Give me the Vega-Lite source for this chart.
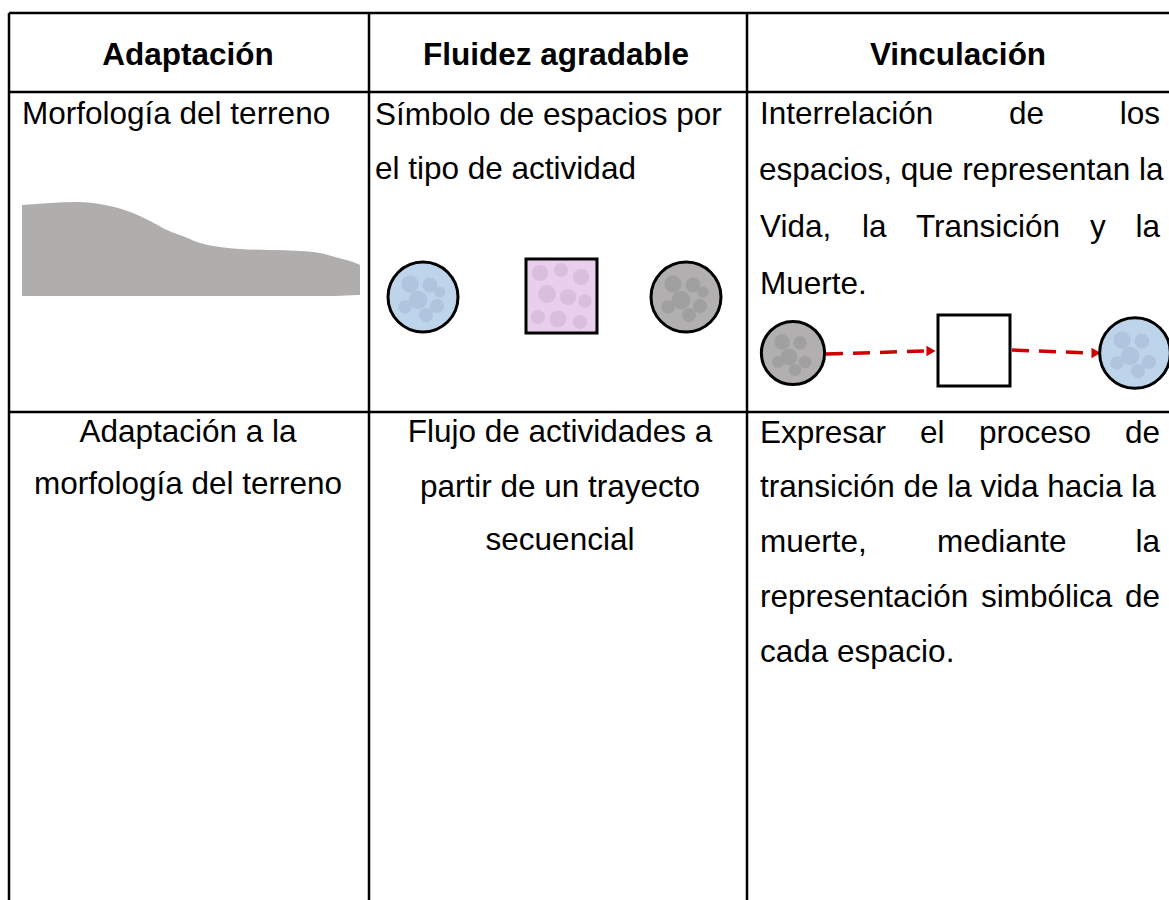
{
  "$schema": "https://vega.github.io/schema/vega-lite/v6.json",
  "width": 1169,
  "height": 900,
  "padding": 0,
  "autosize": {"type": "none"},
  "background": "white",
  "config": {"view": {"stroke": null}},
  "datasets": {
    "terrain": [
      {"x": 22, "y": 205, "b": 296}, {"x": 50, "y": 203, "b": 296}, {"x": 77, "y": 202, "b": 296},
      {"x": 105, "y": 205, "b": 296}, {"x": 133, "y": 213, "b": 296}, {"x": 150, "y": 221, "b": 296},
      {"x": 167, "y": 230, "b": 296}, {"x": 185, "y": 237, "b": 296}, {"x": 200, "y": 243, "b": 296},
      {"x": 220, "y": 247, "b": 296}, {"x": 240, "y": 249, "b": 296}, {"x": 270, "y": 250, "b": 296},
      {"x": 300, "y": 251, "b": 296}, {"x": 320, "y": 253, "b": 296}, {"x": 335, "y": 257, "b": 296},
      {"x": 358, "y": 264, "b": 295}, {"x": 360, "y": 265, "b": 295}
    ],
    "grid": [
      {"x": 9, "y": 13, "x2": 1169, "y2": 13},
      {"x": 9, "y": 92, "x2": 1169, "y2": 92},
      {"x": 9, "y": 412, "x2": 1169, "y2": 412},
      {"x": 9, "y": 13, "x2": 9, "y2": 900},
      {"x": 369, "y": 13, "x2": 369, "y2": 900},
      {"x": 747, "y": 13, "x2": 747, "y2": 900}
    ],
    "circles": [
      {"x": 423, "y": 297, "s": 4900, "c": "#bed4eb"},
      {"x": 686, "y": 297, "s": 4900, "c": "#b1afaf"},
      {"x": 793, "y": 353, "s": 4000, "c": "#b1afaf"},
      {"x": 1135, "y": 353, "s": 5000, "c": "#bed4eb"}
    ],
    "blotches": [
      {"x": 410, "y": 284, "s": 300, "c": "#aec3db"}, {"x": 430, "y": 285, "s": 220, "c": "#aec3db"},
      {"x": 418, "y": 300, "s": 350, "c": "#aec3db"}, {"x": 437, "y": 306, "s": 200, "c": "#aec3db"},
      {"x": 405, "y": 307, "s": 180, "c": "#aec3db"}, {"x": 426, "y": 315, "s": 200, "c": "#aec3db"},
      {"x": 440, "y": 292, "s": 120, "c": "#aec3db"},
      {"x": 673, "y": 284, "s": 300, "c": "#a09e9e"}, {"x": 693, "y": 285, "s": 220, "c": "#a09e9e"},
      {"x": 681, "y": 300, "s": 350, "c": "#a09e9e"}, {"x": 700, "y": 306, "s": 200, "c": "#a09e9e"},
      {"x": 668, "y": 307, "s": 180, "c": "#a09e9e"}, {"x": 689, "y": 315, "s": 200, "c": "#a09e9e"},
      {"x": 703, "y": 292, "s": 120, "c": "#a09e9e"},
      {"x": 782, "y": 342, "s": 240, "c": "#a09e9e"}, {"x": 800, "y": 343, "s": 180, "c": "#a09e9e"},
      {"x": 789, "y": 357, "s": 280, "c": "#a09e9e"}, {"x": 805, "y": 362, "s": 160, "c": "#a09e9e"},
      {"x": 778, "y": 362, "s": 140, "c": "#a09e9e"}, {"x": 795, "y": 370, "s": 150, "c": "#a09e9e"},
      {"x": 1122, "y": 340, "s": 300, "c": "#aec3db"}, {"x": 1142, "y": 341, "s": 220, "c": "#aec3db"},
      {"x": 1130, "y": 356, "s": 350, "c": "#aec3db"}, {"x": 1149, "y": 362, "s": 200, "c": "#aec3db"},
      {"x": 1117, "y": 363, "s": 180, "c": "#aec3db"}, {"x": 1138, "y": 371, "s": 200, "c": "#aec3db"},
      {"x": 540, "y": 273, "s": 260, "c": "#d8bbdb"}, {"x": 561, "y": 270, "s": 200, "c": "#d8bbdb"},
      {"x": 581, "y": 277, "s": 260, "c": "#d8bbdb"}, {"x": 547, "y": 294, "s": 320, "c": "#d8bbdb"},
      {"x": 568, "y": 297, "s": 260, "c": "#d8bbdb"}, {"x": 585, "y": 301, "s": 180, "c": "#d8bbdb"},
      {"x": 538, "y": 317, "s": 200, "c": "#d8bbdb"}, {"x": 558, "y": 319, "s": 280, "c": "#d8bbdb"},
      {"x": 580, "y": 322, "s": 200, "c": "#d8bbdb"}
    ],
    "squares": [
      {"x": 526, "x2": 597, "y": 259, "y2": 333, "c": "#eacfed"},
      {"x": 938, "x2": 1010, "y": 315, "y2": 386, "c": "#ffffff"}
    ],
    "arrows": [
      {"x": 826, "y": 354, "x2": 926, "y2": 351},
      {"x": 1012, "y": 350, "x2": 1091, "y2": 353}
    ],
    "heads": [
      {"x": 931, "y": 351},
      {"x": 1096, "y": 353}
    ],
    "texts": [
      {"t": "Adaptación", "x": 188, "y": 65, "a": "cb"},
      {"t": "Fluidez agradable", "x": 556, "y": 65, "a": "cb"},
      {"t": "Vinculación", "x": 958, "y": 65, "a": "cb"},
      {"t": "Morfología del terreno", "x": 22, "y": 124, "a": "l"},
      {"t": "Símbolo de espacios por", "x": 375, "y": 125, "a": "l"},
      {"t": "el tipo de actividad", "x": 375, "y": 179, "a": "l"},
      {"t": "Interrelación", "x": 760, "y": 124, "a": "l"},
      {"t": "de", "x": 1009, "y": 124, "a": "l"},
      {"t": "los", "x": 1160, "y": 124, "a": "r"},
      {"t": "espacios, que representan la", "x": 759, "y": 180, "a": "l"},
      {"t": "Vida,", "x": 760, "y": 237, "a": "l"},
      {"t": "la", "x": 862, "y": 237, "a": "l"},
      {"t": "Transición", "x": 916, "y": 237, "a": "l"},
      {"t": "y", "x": 1090, "y": 237, "a": "l"},
      {"t": "la", "x": 1160, "y": 237, "a": "r"},
      {"t": "Muerte.", "x": 760, "y": 294, "a": "l"},
      {"t": "Adaptación a la", "x": 188, "y": 442, "a": "c"},
      {"t": "morfología del terreno", "x": 188, "y": 494, "a": "c"},
      {"t": "Flujo de actividades a", "x": 560, "y": 442, "a": "c"},
      {"t": "partir de un trayecto", "x": 560, "y": 497, "a": "c"},
      {"t": "secuencial", "x": 560, "y": 550, "a": "c"},
      {"t": "Expresar", "x": 760, "y": 443, "a": "l"},
      {"t": "el", "x": 920, "y": 443, "a": "l"},
      {"t": "proceso", "x": 979, "y": 443, "a": "l"},
      {"t": "de", "x": 1160, "y": 443, "a": "r"},
      {"t": "transición de la vida hacia la", "x": 760, "y": 497, "a": "l"},
      {"t": "muerte,", "x": 760, "y": 552, "a": "l"},
      {"t": "mediante", "x": 937, "y": 552, "a": "l"},
      {"t": "la", "x": 1160, "y": 552, "a": "r"},
      {"t": "representación", "x": 760, "y": 607, "a": "l"},
      {"t": "simbólica", "x": 981, "y": 607, "a": "l"},
      {"t": "de", "x": 1160, "y": 607, "a": "r"},
      {"t": "cada espacio.", "x": 760, "y": 662, "a": "l"}
    ]
  },
  "layer": [
    {
      "data": {"name": "terrain"},
      "mark": {"type": "area", "color": "#b0adad", "interpolate": "monotone"},
      "encoding": {
        "x": {"field": "x", "type": "quantitative", "scale": {"domain": [0, 1169], "nice": false, "zero": false}, "axis": null},
        "y": {"field": "y", "type": "quantitative", "scale": {"domain": [0, 900], "reverse": true, "nice": false, "zero": false}, "axis": null},
        "y2": {"field": "b"}
      }
    },
    {
      "data": {"name": "grid"},
      "mark": {"type": "rule", "color": "#000000", "strokeWidth": 2.5},
      "encoding": {
        "x": {"field": "x", "type": "quantitative", "axis": null},
        "y": {"field": "y", "type": "quantitative", "axis": null},
        "x2": {"field": "x2"},
        "y2": {"field": "y2"}
      }
    },
    {
      "data": {"name": "squares"},
      "mark": {"type": "rect", "strokeWidth": 0},
      "encoding": {
        "x": {"field": "x", "type": "quantitative", "axis": null},
        "x2": {"field": "x2"},
        "y": {"field": "y", "type": "quantitative", "axis": null},
        "y2": {"field": "y2"},
        "fill": {"field": "c", "type": "nominal", "scale": null}
      }
    },
    {
      "data": {"name": "arrows"},
      "mark": {"type": "rule", "color": "#d00000", "strokeWidth": 3.5, "strokeDash": [17, 10]},
      "encoding": {
        "x": {"field": "x", "type": "quantitative", "axis": null},
        "y": {"field": "y", "type": "quantitative", "axis": null},
        "x2": {"field": "x2"},
        "y2": {"field": "y2"}
      }
    },
    {
      "data": {"name": "heads"},
      "mark": {"type": "point", "shape": "triangle-right", "filled": true, "color": "#d00000", "size": 110, "opacity": 1},
      "encoding": {
        "x": {"field": "x", "type": "quantitative", "axis": null},
        "y": {"field": "y", "type": "quantitative", "axis": null}
      }
    },
    {
      "data": {"name": "circles"},
      "mark": {"type": "point", "shape": "circle", "filled": true, "strokeWidth": 0, "opacity": 1},
      "encoding": {
        "x": {"field": "x", "type": "quantitative", "axis": null},
        "y": {"field": "y", "type": "quantitative", "axis": null},
        "size": {"field": "s", "type": "quantitative", "scale": null},
        "fill": {"field": "c", "type": "nominal", "scale": null}
      }
    },
    {
      "data": {"name": "blotches"},
      "mark": {"type": "point", "shape": "circle", "filled": true, "strokeWidth": 0, "opacity": 0.9},
      "encoding": {
        "x": {"field": "x", "type": "quantitative", "axis": null},
        "y": {"field": "y", "type": "quantitative", "axis": null},
        "size": {"field": "s", "type": "quantitative", "scale": null},
        "fill": {"field": "c", "type": "nominal", "scale": null}
      }
    },
    {
      "data": {"name": "circles"},
      "mark": {"type": "point", "shape": "circle", "filled": false, "stroke": "#000000", "strokeWidth": 3, "opacity": 1},
      "encoding": {
        "x": {"field": "x", "type": "quantitative", "axis": null},
        "y": {"field": "y", "type": "quantitative", "axis": null},
        "size": {"field": "s", "type": "quantitative", "scale": null}
      }
    },
    {
      "data": {"name": "squares"},
      "mark": {"type": "rect", "fillOpacity": 0, "stroke": "#000000", "strokeWidth": 3},
      "encoding": {
        "x": {"field": "x", "type": "quantitative", "axis": null},
        "x2": {"field": "x2"},
        "y": {"field": "y", "type": "quantitative", "axis": null},
        "y2": {"field": "y2"}
      }
    },
    {
      "data": {"name": "texts"},
      "transform": [{"filter": "datum.a == 'l'"}],
      "mark": {"type": "text", "align": "left", "baseline": "alphabetic", "font": "Liberation Sans", "fontSize": 31.5, "color": "#000000"},
      "encoding": {
        "x": {"field": "x", "type": "quantitative", "axis": null},
        "y": {"field": "y", "type": "quantitative", "axis": null},
        "text": {"field": "t"}
      }
    },
    {
      "data": {"name": "texts"},
      "transform": [{"filter": "datum.a == 'r'"}],
      "mark": {"type": "text", "align": "right", "baseline": "alphabetic", "font": "Liberation Sans", "fontSize": 31.5, "color": "#000000"},
      "encoding": {
        "x": {"field": "x", "type": "quantitative", "axis": null},
        "y": {"field": "y", "type": "quantitative", "axis": null},
        "text": {"field": "t"}
      }
    },
    {
      "data": {"name": "texts"},
      "transform": [{"filter": "datum.a == 'c'"}],
      "mark": {"type": "text", "align": "center", "baseline": "alphabetic", "font": "Liberation Sans", "fontSize": 31.5, "color": "#000000"},
      "encoding": {
        "x": {"field": "x", "type": "quantitative", "axis": null},
        "y": {"field": "y", "type": "quantitative", "axis": null},
        "text": {"field": "t"}
      }
    },
    {
      "data": {"name": "texts"},
      "transform": [{"filter": "datum.a == 'cb'"}],
      "mark": {"type": "text", "align": "center", "baseline": "alphabetic", "font": "Liberation Sans", "fontSize": 31.5, "fontWeight": "bold", "color": "#000000"},
      "encoding": {
        "x": {"field": "x", "type": "quantitative", "axis": null},
        "y": {"field": "y", "type": "quantitative", "axis": null},
        "text": {"field": "t"}
      }
    }
  ]
}
